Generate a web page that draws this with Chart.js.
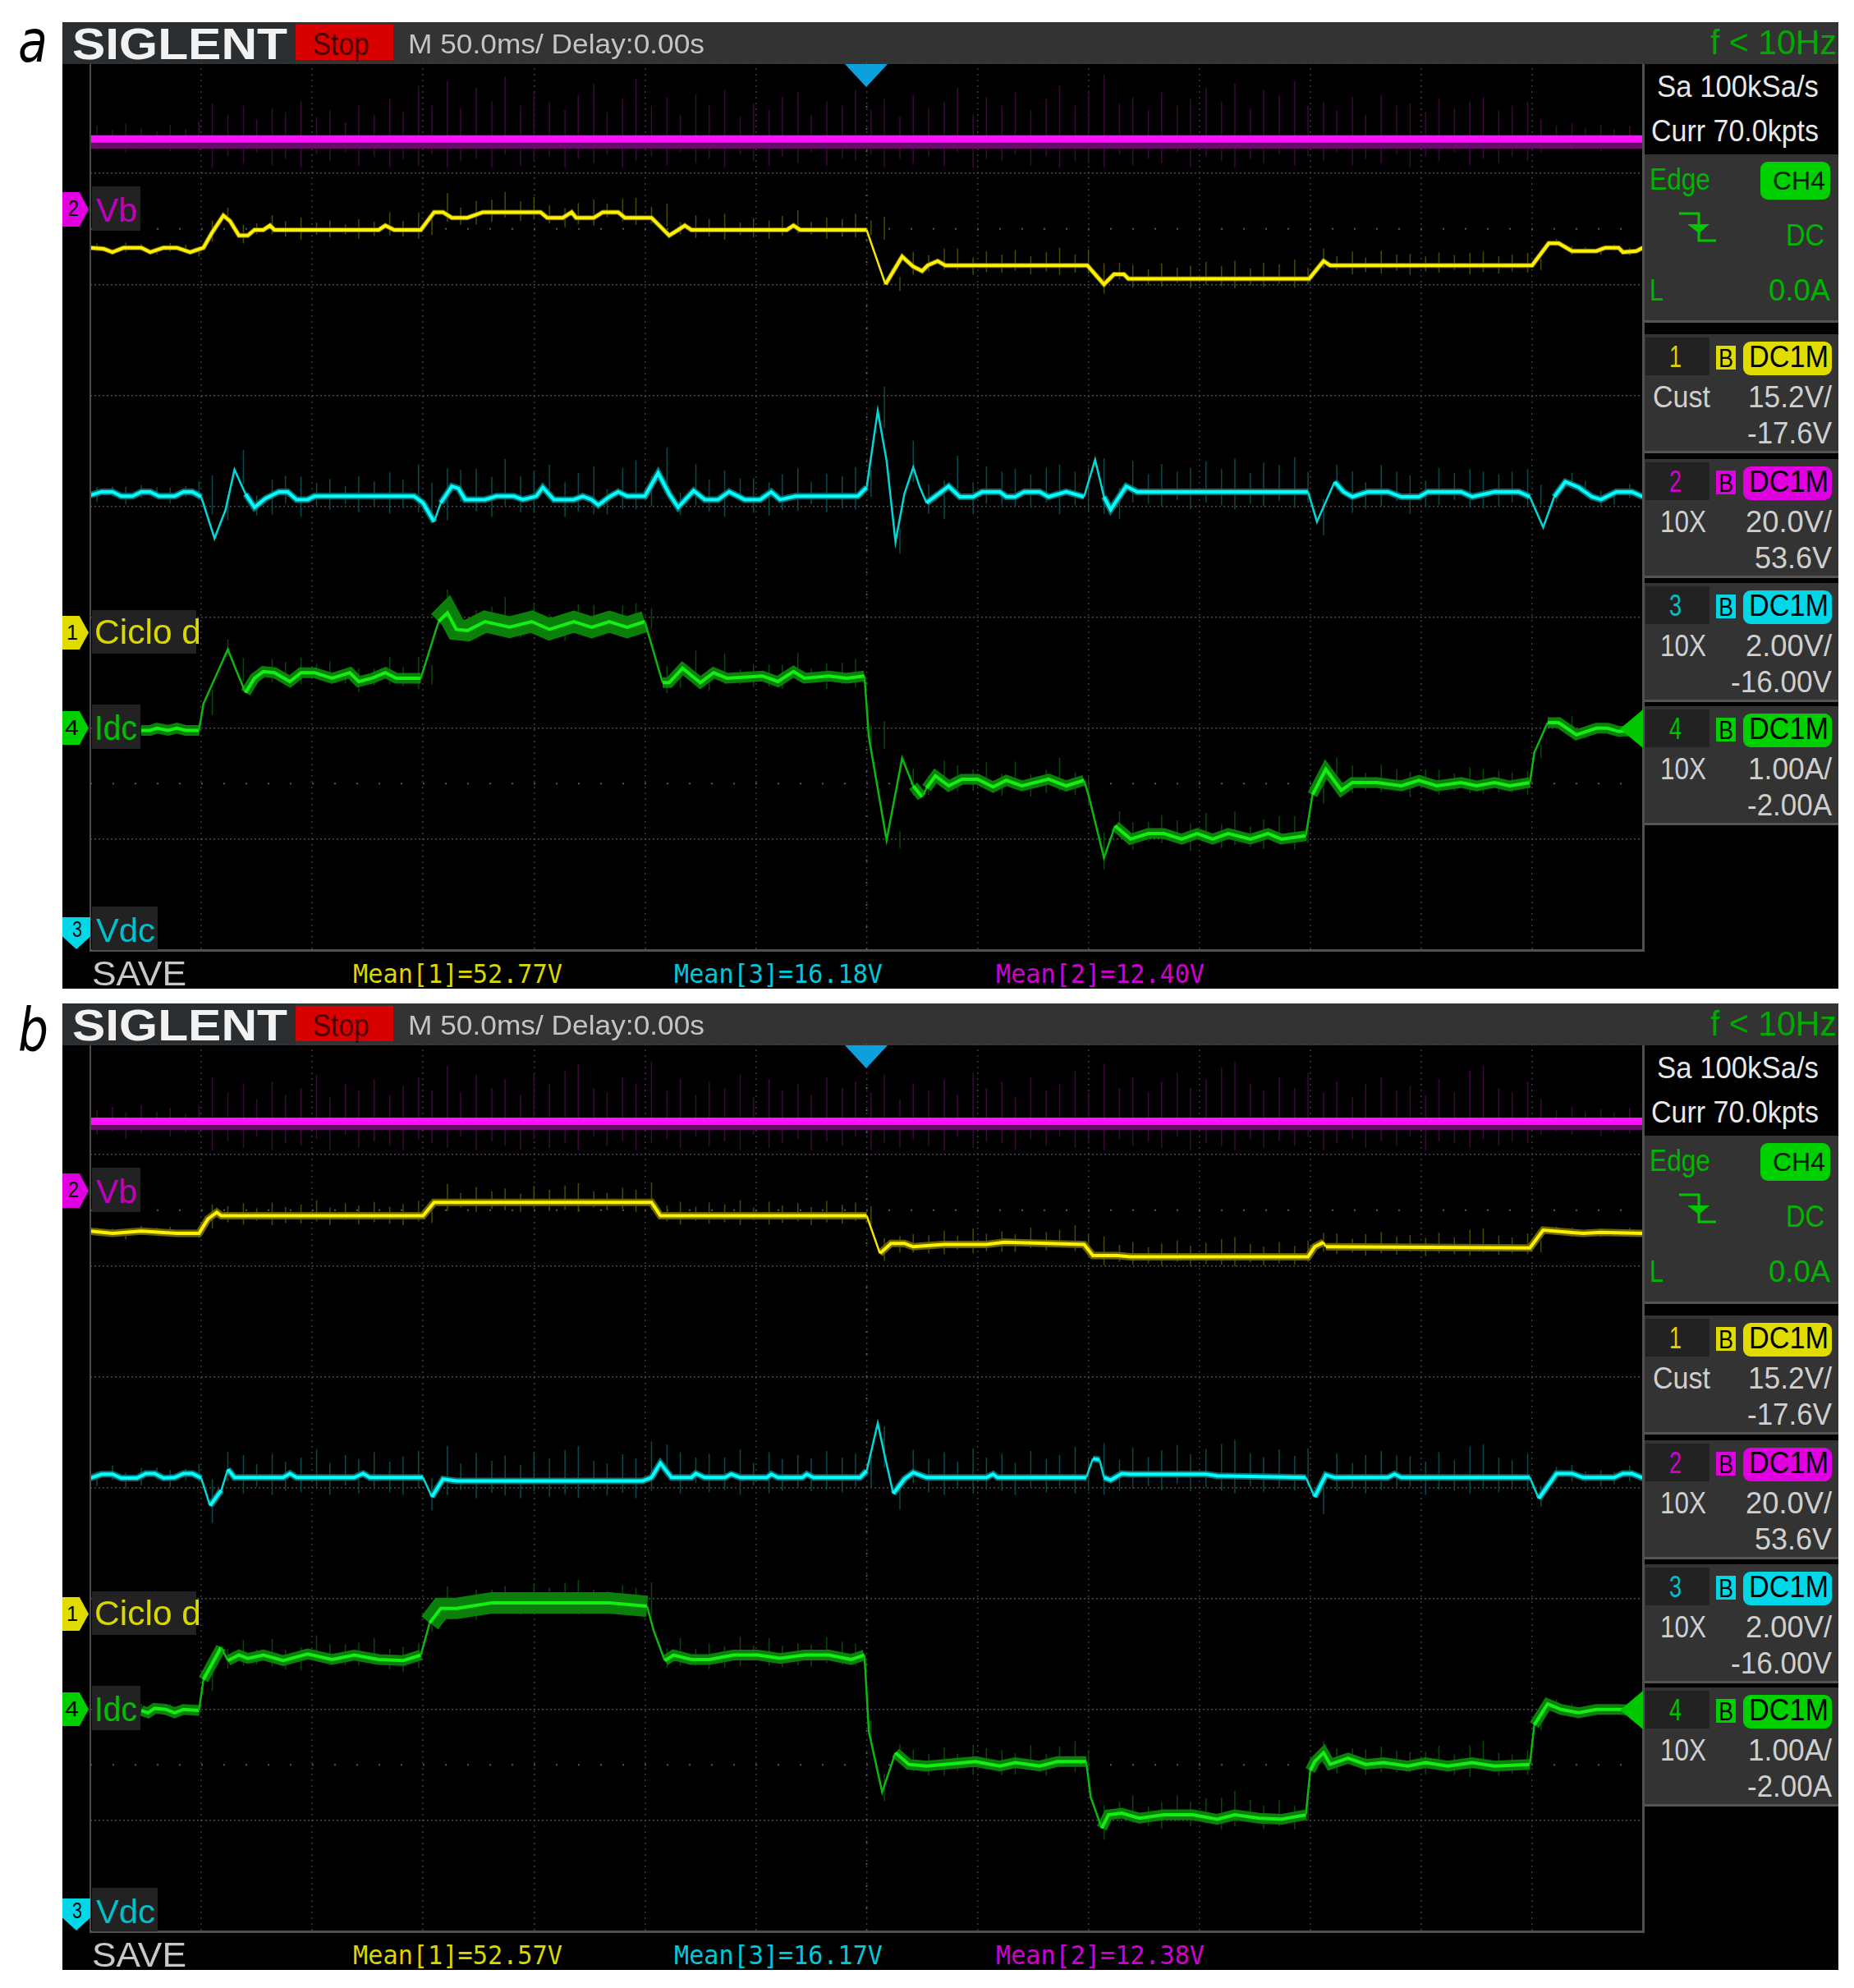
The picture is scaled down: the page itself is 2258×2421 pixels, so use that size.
<!DOCTYPE html>
<html>
<head>
<meta charset="utf-8">
<script src="https://cdn.jsdelivr.net/npm/chart.js@4/dist/chart.umd.min.js"></script>
<style>
  html, body { margin: 0; background: #fff; }
  body { position: relative; width: 2258px; height: 2421px; overflow: hidden; }
  .box, .txt, canvas, svg { position: absolute; }
  .txt { white-space: pre; line-height: 1; transform-origin: 0 0; font-family: "Liberation Sans", sans-serif; }
</style>
</head>
<body>
<script>
// time is ms from the trigger, levels are screen divisions from centre (-4..4)
const noiseT = [-347,-340,-334,-327,-320,-314,-307,-301,-295,-288,-281,-275,-268,-262,-255,-248,-242,-235,-229,-222,-215,-209,-202,-196,-189,-183,-176,-169,-163,-156,-150,-143,-136,-130,-123,-117,-110,-104,-97,-90,-84,-77,-71,-64,-57,-51,-44,-38,-31,-25,-18,-11,-5,2,8,15,21,28,35,41,48,54,61,67,74,81,87,94,100,107,114,120,127,133,140,146,153,160,166,173,179,186,193,199,206,212,219,225,232,239,245,252,258,265,272,278,285,291,298,304,311,318,324,331,337,344];

const aUp = [.12,.08,.14,.10,.07,.13,.09,.16,.32,.22,.30,.18,.28,.24,.34,.20,.26,.15,.30,.22,.36,.25,.48,.30,.52,.28,.46,.34,.56,.30,.42,.34,.26,.40,.50,.24,.36,.54,.30,.38,.22,.40,.30,.44,.20,.32,.26,.38,.42,.22,.34,.30,.44,.26,.36,.20,.40,.28,.34,.46,.22,.38,.30,.42,.26,.36,.48,.30,.44,.58,.32,.38,.26,.42,.30,.36,.46,.34,.50,.28,.44,.40,.52,.30,.34,.26,.38,.22,.40,.30,.32,.24,.36,.28,.34,.38,.26,.30,.34,.18,.12,.14,.10,.13,.09,.12];
const aDn = [.10,.07,.12,.09,.06,.11,.08,.12,.26,.16,.22,.12,.24,.18,.26,.14,.20,.12,.24,.16,.26,.18,.24,.14,.26,.20,.18,.26,.14,.24,.20,.16,.26,.18,.22,.14,.26,.20,.16,.24,.12,.22,.18,.26,.14,.20,.24,.16,.22,.12,.24,.18,.20,.14,.26,.18,.22,.16,.24,.12,.26,.18,.20,.14,.24,.16,.26,.20,.22,.26,.14,.24,.18,.22,.12,.26,.16,.20,.26,.18,.22,.14,.24,.16,.20,.12,.24,.18,.22,.14,.26,.16,.20,.12,.24,.18,.22,.16,.20,.12,.08,.10,.07,.11,.08,.09];
const bUp = [.10,.13,.08,.15,.09,.12,.07,.14,.40,.26,.34,.20,.36,.24,.30,.42,.22,.34,.28,.38,.24,.32,.40,.28,.50,.26,.42,.30,.38,.24,.44,.34,.46,.52,.30,.26,.40,.34,.54,.28,.38,.24,.36,.30,.42,.22,.38,.28,.34,.24,.40,.30,.36,.26,.42,.20,.34,.28,.38,.24,.44,.30,.36,.22,.40,.28,.34,.46,.26,.52,.30,.40,.26,.36,.44,.30,.38,.48,.54,.34,.28,.40,.30,.44,.26,.36,.22,.34,.40,.28,.32,.24,.38,.26,.46,.50,.30,.26,.36,.20,.10,.13,.09,.11,.08,.12];
const bDn = [.12,.09,.16,.11,.08,.14,.10,.12,.26,.18,.24,.14,.26,.20,.22,.16,.26,.12,.24,.18,.22,.26,.16,.20,.24,.14,.26,.18,.22,.26,.16,.24,.20,.26,.14,.22,.18,.26,.20,.16,.24,.14,.22,.18,.26,.12,.24,.20,.16,.26,.18,.22,.14,.26,.20,.24,.16,.22,.26,.14,.24,.18,.20,.26,.16,.22,.14,.24,.20,.26,.16,.22,.18,.24,.14,.26,.20,.22,.26,.16,.24,.18,.22,.14,.26,.20,.16,.24,.18,.22,.14,.26,.18,.20,.24,.16,.22,.18,.20,.12,.09,.12,.08,.13,.10,.11];

const aVbT = [-350,-100,100,350];
const aVbY = [3.31,3.31,3.31,3.31];
const aVbLowY = [3.27,3.27,3.27,3.27];

const aCicloT = [-350,-344,-340,-335,-327,-323,-317,-311,-305,-299,-295,-290,-287,-283,-279,-276,-272,-269,-267,-220,-217,-213,-201,-195,-191,-187,-180,-173,-147,-144,-137,-133,-131,-123,-119,-112,-109,-97,-89,-85,-82,-79,-36,-33,-30,0,8.5,16,21,25,27.5,32,35.5,99.5,107,111.5,116,118,199.5,206,209,300,307.5,312,318,329,333,339,341,347,350];
const aCicloY = [2.33,2.32,2.29,2.33,2.33,2.29,2.33,2.33,2.29,2.33,2.47,2.62,2.57,2.44,2.44,2.49,2.49,2.53,2.49,2.49,2.53,2.49,2.49,2.65,2.65,2.60,2.60,2.65,2.65,2.60,2.60,2.65,2.60,2.60,2.65,2.65,2.60,2.60,2.44,2.49,2.53,2.49,2.49,2.53,2.49,2.49,2.00,2.25,2.16,2.12,2.17,2.21,2.17,2.17,2.00,2.09,2.09,2.05,2.05,2.21,2.17,2.17,2.37,2.37,2.30,2.30,2.33,2.33,2.29,2.30,2.33];

const aVdcT = [-350,-345,-340,-336,-331,-327,-323,-319,-312,-308,-304,-300,-294,-289,-285,-280,-276,-271,-265,-261,-257,-252,-249,-204,-200,-195,-192,-187,-184,-181,-172,-167,-159,-155,-149,-146,-141,-132,-128,-124,-121,-116,-112,-108,-100,-94,-89,-85,-78,-73,-67,-62,-55,-48,-43,-39,-32,-4,0,5,9,13,17,21,24,27,37,42,48,52,60,63,67,71,78,82,90,98,103,107,110,117,122,142,147,199,203,211,215,219,226,235,241,249,253,268,273,283,294,299,305,310,315,321,327,331,338,345,350];
const aVdcY = [.10,.13,.13,.09,.09,.13,.13,.09,.09,.13,.13,.085,-.29,-.03,.33,.11,-.01,.07,.13,.13,.06,.06,.09,.09,.03,-.14,.03,.18,.16,.06,.06,.09,.09,.06,.09,.17,.06,.06,.09,.06,.01,.085,.13,.09,.09,.30,.11,-.01,.14,.06,.06,.13,.06,.06,.13,.06,.09,.09,.17,.86,.41,-.32,.11,.35,.17,.03,.18,.085,.085,.13,.13,.085,.085,.13,.13,.085,.13,.085,.42,.085,-.03,.18,.13,.13,.13,.13,-.14,.22,.13,.085,.13,.13,.085,.085,.13,.13,.085,.13,.13,.085,-.19,.085,.22,.17,.085,.06,.13,.13,.085];

const aIdcT = [-327,-323,-320,-315,-311,-307,-301,-299,-288,-284,-280,-276,-272,-267,-260,-255,-249,-241,-233,-229,-223,-217,-212,-201,-193,-189,-185,-180,-172,-161,-151,-143,-132,-124,-116,-108,-100,-92,-89,-83,-75,-69,-63,-47,-40,-33,-28,-17,-9,-1,1,9,16,21,25,27,31,37,43,50,57,63,70,82,90,98,100,107,112,119,127,134,142,149,156,163,173,181,187,198,201,207,214,219,230,241,249,257,268,275,283,290,299,301,307,312,320,329,334,339,350];
const aIdcY = [-2.02,-2.02,-2.0,-2.02,-2.0,-2.02,-2.02,-1.78,-1.29,-1.49,-1.68,-1.55,-1.49,-1.5,-1.58,-1.5,-1.5,-1.55,-1.5,-1.58,-1.55,-1.5,-1.55,-1.55,-1.04,-.96,-1.11,-1.12,-1.04,-1.09,-1.04,-1.11,-1.04,-1.09,-1.04,-1.09,-1.04,-1.59,-1.59,-1.46,-1.59,-1.5,-1.55,-1.53,-1.58,-1.49,-1.55,-1.53,-1.55,-1.53,-2.08,-3.01,-2.27,-2.52,-2.62,-2.54,-2.43,-2.52,-2.46,-2.46,-2.53,-2.47,-2.52,-2.46,-2.52,-2.47,-2.6,-3.17,-2.88,-3.0,-2.95,-2.95,-3.0,-2.95,-3.0,-2.95,-3.0,-2.95,-3.0,-2.97,-2.6,-2.37,-2.56,-2.49,-2.49,-2.52,-2.47,-2.52,-2.49,-2.52,-2.49,-2.52,-2.49,-2.22,-1.95,-1.95,-2.06,-2.0,-2.0,-2.03,-2.02];

const bVbT = [-350,-100,100,350];
const bVbY = [3.30,3.30,3.30,3.30];
const bVbLowY = [3.27,3.27,3.27,3.27];

const bCicloT = [-350,-340,-327,-311,-301,-297,-293,-291,-200,-195,-97,-93,0,6,11,17,21,27,35,54,62,98,102,113,119,199,202,206,207,299,305,317,323,331,350];
const bCicloY = [2.31,2.29,2.31,2.29,2.29,2.42,2.48,2.45,2.45,2.57,2.57,2.45,2.45,2.11,2.20,2.20,2.17,2.18,2.19,2.19,2.21,2.19,2.09,2.09,2.08,2.08,2.17,2.21,2.17,2.16,2.32,2.30,2.29,2.30,2.29];

const bVdcT = [-350,-345,-340,-336,-329,-325,-321,-317,-312,-308,-304,-300,-296,-291,-288,-285,-263,-260,-257,-231,-227,-224,-200,-196,-191,-185,-101,-97,-93,-88,-79,-77,-73,-64,-61,-57,-45,-43,-40,-29,-27,-24,-3,0,5,8,12,17,21,27,54,57,59,99,102,105,107,110,115,119,153,158,198,202,207,211,235,238,241,299,303,311,318,323,337,341,345,350];
const bVdcY = [.085,.12,.12,.085,.085,.126,.126,.085,.09,.126,.126,.085,-.164,-.026,.164,.09,.09,.126,.09,.09,.126,.09,.09,-.085,.076,.06,.06,.09,.22,.09,.09,.126,.09,.09,.12,.09,.09,.12,.09,.09,.12,.09,.09,.15,.58,.30,-.056,.076,.135,.09,.09,.12,.09,.09,.26,.25,.09,.067,.126,.12,.12,.105,.09,-.085,.114,.09,.09,.12,.09,.09,-.10,.126,.126,.09,.09,.126,.126,.085];

const bIdcT = [-327,-324,-321,-316,-312,-308,-301,-299,-291,-288,-283,-279,-272,-263,-252,-241,-231,-220,-209,-201,-197,-192,-185,-169,-151,-135,-116,-99,-96,-91,-87,-79,-71,-60,-49,-39,-28,-17,-7,-1,1,7,13,19,27,35,49,60,67,78,86,99,101,106,109,115,123,134,147,158,166,177,187,198,200,202,206,209,217,225,233,244,252,262,273,283,299,301,307,313,321,329,339,350];
const bIdcY = [-2.01,-2.03,-1.99,-2.0,-2.03,-2.0,-2.01,-1.73,-1.44,-1.56,-1.51,-1.54,-1.51,-1.56,-1.5,-1.55,-1.51,-1.55,-1.56,-1.51,-1.22,-1.09,-1.09,-1.04,-1.04,-1.04,-1.04,-1.07,-1.29,-1.56,-1.51,-1.55,-1.55,-1.51,-1.51,-1.54,-1.51,-1.51,-1.55,-1.51,-2.2,-2.745,-2.39,-2.495,-2.51,-2.495,-2.47,-2.51,-2.48,-2.51,-2.47,-2.47,-2.79,-3.07,-2.95,-2.935,-2.98,-2.95,-2.95,-2.99,-2.95,-2.98,-2.99,-2.95,-2.55,-2.47,-2.39,-2.495,-2.44,-2.495,-2.48,-2.51,-2.48,-2.51,-2.48,-2.51,-2.495,-2.14,-1.95,-2.0,-2.03,-2.0,-2.0,-2.01];

const aMeans = ['Mean[1]=52.77V', 'Mean[3]=16.18V', 'Mean[2]=12.40V'];
const bMeans = ['Mean[1]=52.57V', 'Mean[3]=16.17V', 'Mean[2]=12.38V'];

const YELLOW = '#e0dc00', MAGENTA = '#e000e0', CYAN = '#00d8e8', GREEN = '#00d000';

function box(x0, y0, x1, y1, bg, extra) {
  const el = document.createElement('div');
  el.className = 'box';
  el.style.cssText = `left:${x0}px;top:${y0}px;width:${x1 - x0}px;height:${y1 - y0}px;background:${bg};${extra || ''}`;
  document.body.appendChild(el);
  return el;
}

// text fitted between x0..x1 with its capitals between top..bottom
function text(str, x0, x1, top, bottom, color, extra) {
  const size = (bottom - top) / 0.716;
  const el = document.createElement('span');
  el.className = 'txt';
  el.textContent = str;
  el.style.cssText = `left:${x0}px;top:${bottom - 0.8465 * size}px;font-size:${size}px;color:${color};${extra || ''}`;
  document.body.appendChild(el);
  el.style.transform = `scaleX(${(x1 - x0) / el.getBoundingClientRect().width})`;
}

const pts = (ts, ys) => ts.map((t, i) => ({ x: t, y: ys[i] }));

// noise bursts: short vertical strokes around the trace level at each noise time
function spikes(ts, ys, up, dn, gain) {
  const out = [];
  noiseT.forEach((t, i) => {
    if (t < ts[0]) return;
    let k = 0;
    while (k < ts.length - 1 && ts[k + 1] <= t) k++;
    out.push({ x: t, y: ys[k] + up[i] * gain }, { x: t, y: ys[k] - dn[i] * gain }, { x: t, y: null });
  });
  return out;
}

const steep = (c) => Math.abs((c.p1.parsed.y - c.p0.parsed.y) / (c.p1.parsed.x - c.p0.parsed.x)) > 0.04;

function line(data, color, width, order, extra) {
  return Object.assign({
    data, borderColor: color, borderWidth: width, order,
    pointRadius: 0, tension: 0, fill: false, borderJoinStyle: 'miter',
  }, extra || {});
}

function traceSet(ts, ys, up, dn, gain, col, order, haloW, highW) {
  return [
    line(spikes(ts, ys, up, dn, gain), col.spike, 1.5, order + 2),
    line(pts(ts, ys), col.halo, haloW, order + 1, {
      segment: {
        borderColor: (c) => (steep(c) ? 'transparent' : undefined),
        borderWidth: (c) => (highW && c.p0.parsed.y > -1.25 ? highW : undefined),
      },
    }),
    line(pts(ts, ys), col.main, 4, order, {
      segment: {
        borderWidth: (c) => (steep(c) ? 2.5 : undefined),
        borderColor: (c) => (steep(c) ? col.steep : undefined),
      },
    }),
  ];
}

const colYellow = { main: '#fff000', halo: '#6a6600', spike: '#4c4a00', steep: '#f0e800' };
const colCyan = { main: '#00ffff', halo: '#0a7070', spike: '#0a4a4a', steep: '#00d8d8' };
const colGreen = { main: '#12f012', halo: '#0a800a', spike: '#0a480a', steep: '#0cb80c' };

function drawScope(name, top, d) {
  box(76, top, 2239, top + 1177, '#000');
  box(76, top, 2239, top + 51, '#333');
  box(76, top, 360, top + 51, '#2a2e30');

  const cv = document.createElement('canvas');
  cv.id = name + 'Scope';
  cv.width = 1891;
  cv.height = 1081;
  cv.style.cssText = `left:110px;top:${top + 49}px;width:1891px;height:1081px;`;
  document.body.appendChild(cv);

  new Chart(cv, {
    type: 'line',
    data: {
      datasets: [
        line(pts(d.vbT, d.vbY), '#ff10ff', 9, 1),
        line(pts(d.vbT, d.vbLow), '#6a0a6a', 13, 2),
        line(spikes(d.vbT, d.vbY, d.up, d.dn, 1), '#3a0a3a', 1.5, 3),
        ...traceSet(d.cicloT, d.cicloY, d.up, d.dn, 0.33, colYellow, 4, d.yHalo),
        ...traceSet(d.vdcT, d.vdcY, d.up, d.dn, 0.6, colCyan, 7, 8),
        ...traceSet(d.idcT, d.idcY, d.up, d.dn, 0.4, colGreen, 10, 13, 26),
        line(pts([-350, 350], [2.5, 2.5]), '#555', 2, 20, { borderDash: [2, 25] }),
        line(pts([-350, 350], [-2.5, -2.5]), '#555', 2, 20, { borderDash: [2, 25] }),
        line(pts([0, 0], [-4, 4]), '#555', 2, 20, { borderDash: [2, 25] }),
      ],
    },
    options: {
      responsive: false,
      animation: false,
      parsing: { xAxisKey: 'x', yAxisKey: 'y' },
      layout: { padding: 0 },
      plugins: { legend: { display: false }, tooltip: { enabled: false } },
      scales: {
        x: {
          type: 'linear', min: -350, max: 350,
          ticks: { display: false, stepSize: 50 },
          grid: { color: '#3a3a3a', drawTicks: false, lineWidth: 1.5 },
          border: { display: false, dash: [2, 5] },
        },
        y: {
          type: 'linear', min: -4, max: 4,
          ticks: { display: false, stepSize: 1 },
          grid: { color: '#4a4a4a', drawTicks: false, lineWidth: 1.5 },
          border: { display: false, dash: [2, 3] },
        },
      },
    },
  });

  const o = top - 27;
  // plot frame
  box(109, o + 78, 111, o + 1158, '#4a4a4a');
  box(109, o + 1156, 2002, o + 1159, '#505050');
  box(2000, o + 78, 2003, o + 1159, '#505050');

  // header
  text('SIGLENT', 88, 350, o + 34, o + 72, '#f2f2f2', 'font-weight:bold;');
  box(360, o + 30, 479, o + 73, '#d80000');
  text('Stop', 381, 450, o + 39, o + 67, '#4a0000');
  text('M 50.0ms/ Delay:0.00s', 497, 858, o + 41, o + 65, '#c4c4c4');
  text('f < 10Hz', 2083, 2237, o + 36, o + 67, '#00a800');
  box(1029, o + 78, 1081, o + 106, '#0ca0dc', 'clip-path:polygon(0 0,100% 0,50% 100%);');

  // trace name tags
  const tag = 'clip-path:polygon(0 0,65% 0,100% 50%,65% 100%,0 100%);';
  box(76, o + 234, 108, o + 276, MAGENTA, tag);
  text('2', 83, 96, o + 244, o + 264, '#000');
  box(112, o + 227, 171, o + 281, '#222');
  text('Vb', 117, 167, o + 241, o + 270, '#c000c0');
  box(76, o + 750, 108, o + 791, YELLOW, tag);
  text('1', 81, 95, o + 760, o + 779, '#000');
  box(112, o + 743, 239, o + 796, '#222');
  text('Ciclo d', 115, 245, o + 754, o + 785, '#d8d800');
  box(76, o + 866, 108, o + 907, GREEN, tag);
  text('4', 79, 96, o + 876, o + 895, '#000');
  box(112, o + 858, 171, o + 912, '#222');
  text('Idc', 115, 167, o + 871, o + 902, '#00c000');
  box(76, o + 1117, 110, o + 1156, CYAN, 'clip-path:polygon(0 0,100% 0,100% 60%,50% 100%,0 60%);');
  text('3', 88, 100, o + 1122, o + 1142, '#000');
  box(112, o + 1104, 192, o + 1157, '#222');
  text('Vdc', 117, 189, o + 1118, o + 1147, '#00c0cc');
  box(1973, o + 864, 2001, o + 911, '#00c800', 'clip-path:polygon(0 50%,100% 0,100% 100%);');

  // footer
  text('SAVE', 112, 227, o + 1170, o + 1201, '#c8c8c8');
  const mono = 'font-family:"DejaVu Sans Mono",monospace;';
  text(d.means[0], 430, 685, o + 1174, o + 1197, '#d8d800', mono);
  text(d.means[1], 821, 1075, o + 1174, o + 1197, '#00c8d8', mono);
  text(d.means[2], 1213, 1467, o + 1174, o + 1197, '#d000d0', mono);

  // acquisition box
  text('Sa 100kSa/s', 2018, 2215, o + 92, o + 119, '#e8e8e8');
  text('Curr 70.0kpts', 2011, 2215, o + 146, o + 173, '#e8e8e8');

  // trigger box
  box(2003, o + 188, 2239, o + 393, '#333', 'border-bottom:3px solid #555;box-sizing:border-box;');
  text('Edge', 2009, 2083, o + 206, o + 232, '#00b400');
  box(2144, o + 197, 2229, o + 243, '#00d000', 'border-radius:9px;');
  text('CH4', 2159, 2223, o + 208, o + 231, '#002000');
  text('DC', 2175, 2222, o + 274, o + 300, '#00b400');
  text('L', 2009, 2026, o + 341, o + 367, '#00b400');
  text('0.0A', 2154, 2229, o + 341, o + 367, '#00b400');
  const svg = document.createElementNS('http://www.w3.org/2000/svg', 'svg');
  svg.setAttribute('width', 60);
  svg.setAttribute('height', 50);
  svg.style.cssText = `left:2040px;top:${o + 254}px;`;
  svg.innerHTML = '<path d="M5 6H29V39H50" fill="none" stroke="#00c800" stroke-width="3"/><path d="M15 19H42L29 30Z" fill="#00c800"/>';
  document.body.appendChild(svg);

  // channel boxes
  const rows = [
    { y: 0, n: '1', c: YELLOW, nc: '#d8d400', a: 'Cust', v: '15.2V/', vx: 2129, off: '-17.6V', ox: 2128 },
    { y: 152, n: '2', c: MAGENTA, nc: '#d000d0', a: '10X', v: '20.0V/', vx: 2126, off: '53.6V', ox: 2137 },
    { y: 303, n: '3', c: CYAN, nc: '#00c0cc', a: '10X', v: '2.00V/', vx: 2126, off: '-16.00V', ox: 2108 },
    { y: 453, n: '4', c: GREEN, nc: '#00c000', a: '10X', v: '1.00A/', vx: 2129, off: '-2.00A', ox: 2128 },
  ];
  rows.forEach((r) => {
    const y = o + r.y;
    box(2003, y + 407, 2239, y + 552, '#333', 'border-bottom:3px solid #555;box-sizing:border-box;');
    box(2004, y + 411, 2082, y + 457, '#222');
    text(r.n, 2033, 2048, y + 422, y + 448, r.nc);
    box(2090, y + 421, 2114, y + 450, r.c);
    text('B', 2093, 2111, y + 424, y + 447, '#000');
    box(2123, y + 416, 2231, y + 457, r.c, 'border-radius:9px;');
    text('DC1M', 2130, 2227, y + 422, y + 448, '#000');
    text(r.a, r.a === 'Cust' ? 2013 : 2022, r.a === 'Cust' ? 2083 : 2078, y + 471, y + 497, '#cfcfcf');
    text(r.v, r.vx, 2231, y + 471, y + 497, '#cfcfcf');
    text(r.off, r.ox, 2231, y + 515, y + 541, '#cfcfcf');
  });
}

drawScope('a', 27, {
  vbT: aVbT, vbY: aVbY, vbLow: aVbLowY, cicloT: aCicloT, cicloY: aCicloY,
  vdcT: aVdcT, vdcY: aVdcY, idcT: aIdcT, idcY: aIdcY,
  up: aUp, dn: aDn, means: aMeans, yHalo: 6,
});
drawScope('b', 1222, {
  vbT: bVbT, vbY: bVbY, vbLow: bVbLowY, cicloT: bCicloT, cicloY: bCicloY,
  vdcT: bVdcT, vdcY: bVdcY, idcT: bIdcT, idcY: bIdcY,
  up: bUp, dn: bDn, means: bMeans, yHalo: 9,
});

// panel letters
const letter = 'font-family:"DejaVu Sans",sans-serif;font-style:italic;';
text('a', 22, 58, 24, 75, '#000', letter);
text('b', 22, 59, 1228, 1280, '#000', letter);
</script>
</body>
</html>
